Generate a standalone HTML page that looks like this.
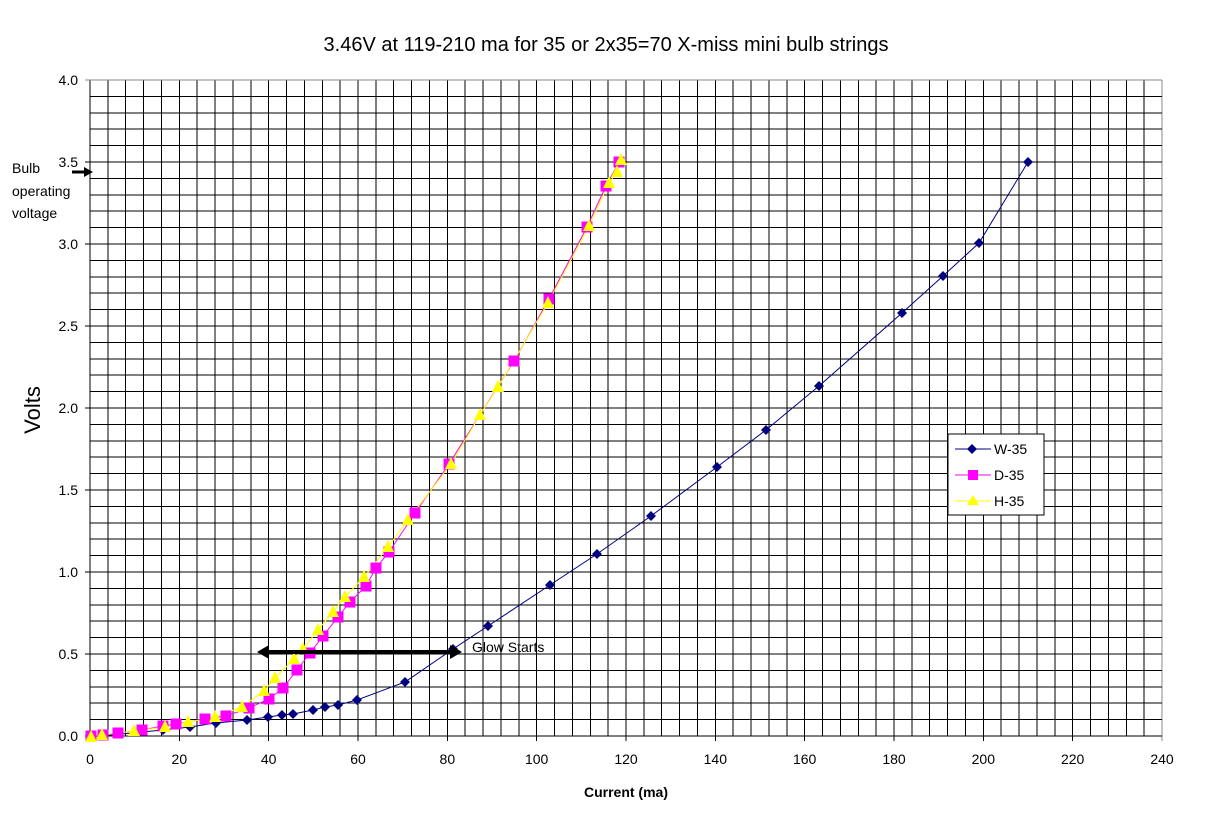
<!DOCTYPE html>
<html><head><meta charset="utf-8"><style>
html,body{margin:0;padding:0;background:#fff}
svg{display:block;font-family:"Liberation Sans",Arial,sans-serif}
</style></head><body>
<svg id="s" width="1212" height="828" xmlns="http://www.w3.org/2000/svg">
<rect width="1212" height="828" fill="#fff"/>
<g id="grid"></g>
<text x="606" y="51" font-size="20" text-anchor="middle">3.46V at 119-210 ma for 35 or 2x35=70 X-miss mini bulb strings</text>
<text transform="translate(40,410) rotate(-90)" font-size="22" text-anchor="middle">Volts</text>
<text x="626" y="797" font-size="14" font-weight="bold" text-anchor="middle">Current (ma)</text>
<text x="12" y="173" font-size="14">Bulb</text>
<text x="12" y="196" font-size="14">operating</text>
<text x="12" y="218" font-size="14">voltage</text>
<line x1="72" y1="172" x2="86" y2="172" stroke="#000" stroke-width="3"/>
<polygon points="84,167 93,172 84,177" fill="#000"/>
<g id="series"></g>
<line x1="268" y1="652" x2="451" y2="652" stroke="#000" stroke-width="4"/>
<polygon points="257,652 269,645 269,659" fill="#000"/>
<polygon points="462,652 450,645 450,659" fill="#000"/>
<text x="472" y="652" font-size="14">Glow Starts</text>
<rect x="948" y="434" width="96" height="81" fill="#fff" stroke="#000" stroke-width="1"/>
<line x1="955" y1="449" x2="991" y2="449" stroke="#000080"/>
<polygon points="972,444 977,449 972,454 967,449" fill="#000080"/>
<text x="994" y="454" font-size="14">W-35</text>
<line x1="955" y1="475" x2="991" y2="475" stroke="#f0f"/>
<rect x="968" y="470" width="10" height="10" fill="#f0f"/>
<text x="994" y="480" font-size="14">D-35</text>
<line x1="955" y1="501" x2="991" y2="501" stroke="#ff0"/>
<polygon points="973,495 979,505 967,505" fill="#ff0"/>
<text x="994" y="506" font-size="14">H-35</text>
</svg>
<script>
var NS="http://www.w3.org/2000/svg";
function el(p,t,a){var e=document.createElementNS(NS,t);for(var k in a)e.setAttribute(k,a[k]);p.appendChild(e);return e;}
var g=document.getElementById('grid');
var X0=90,X1=1162,Y0=736,Y1=80;
for(var i=0;i<=60;i++){var x=X0+(X1-X0)*i/60;el(g,'line',{x1:x,y1:Y1,x2:x,y2:Y0+(i%5==0?5:0),stroke:i==60?'#888':'#000','stroke-width':1,'shape-rendering':'crispEdges'});}
for(var j=0;j<=40;j++){var y=Y0-(Y0-Y1)*j/40;el(g,'line',{x1:X0-(j%5==0?5:0),y1:y,x2:X1,y2:y,stroke:j==40?'#888':'#000','stroke-width':1,'shape-rendering':'crispEdges'});}
for(var i=0;i<=12;i++){var t=el(g,'text',{x:X0+(X1-X0)*i/12,y:764,'font-size':14,'text-anchor':'middle'});t.textContent=i*20;}
for(var j=0;j<=8;j++){var t=el(g,'text',{x:78,y:Y0-(Y0-Y1)*j/8+5,'font-size':14,'text-anchor':'end'});t.textContent=(j*0.5).toFixed(1);}
var s=document.getElementById('series');
var W=[[91,737],[163,730],[190,727],[216,723],[247,720],[268,717],[282,715],[293,714],[313,710],[325,707],[338,705],[357,700],[405,682],[453,649],[488,626],[550,585],[597,554],[651,516],[717,467],[766,430],[819,386],[902,313],[943,276],[979,243],[1028,162]];
var D=[[91,736],[103,735],[118,733],[142,730],[163,726],[176,724],[205,719],[226,716],[249,708],[269,699],[283,688],[297,670],[310,653],[323,636],[338,617],[350,602],[366,586],[376,568],[389,552],[415,513],[449,464],[514,361],[549,299],[587,227],[606,186],[619,162]];
var H=[[91,737],[102,735],[134,731],[165,727],[188,722],[215,717],[242,707],[264,691],[275,678],[294,659],[303,649],[318,630],[333,612],[345,597],[364,577],[388,547],[408,520],[451,464],[480,415],[498,387],[548,303],[589,226],[609,183],[617,172],[621,160]];
function line(p,c){el(s,'polyline',{points:p.map(function(q){return q.join(',')}).join(' '),fill:'none',stroke:c,'stroke-width':1});}
line(W,'#000080');line(D,'#f0f');line(H,'#ff0');
W.forEach(function(q){el(s,'polygon',{points:[q[0],q[1]-5,q[0]+5,q[1],q[0],q[1]+5,q[0]-5,q[1]].join(' '),fill:'#000080'});});
D.forEach(function(q){el(s,'rect',{x:q[0]-5.5,y:q[1]-5.5,width:11,height:11,fill:'#f0f'});});
H.forEach(function(q){el(s,'polygon',{points:[q[0],q[1]-7,q[0]+6,q[1]+5,q[0]-6,q[1]+5].join(' '),fill:'#ff0'});});
</script>
</body></html>
